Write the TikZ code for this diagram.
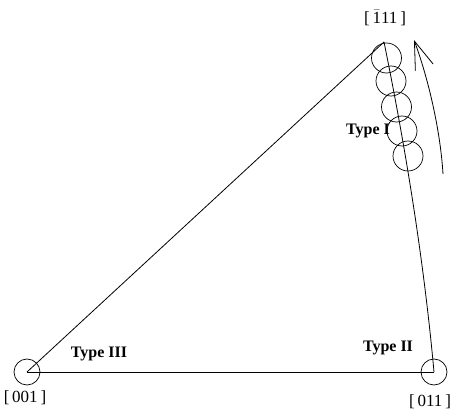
\documentclass[tikz,border=0pt]{standalone}
\usepackage{fontspec}
\setmainfont{Liberation Serif}
\usetikzlibrary{arrows.meta}

\begin{document}
\begin{tikzpicture}[x=1pt,y=-1pt,line width=0.8pt,
  ring/.style={draw,circle,inner sep=0pt,minimum size=30pt,line width=0.7pt},
  pole/.style={font=\fontsize{17}{19}\selectfont},
  kind/.style={font=\fontsize{16}{18}\selectfont\bfseries}]
\useasboundingbox (0,0) rectangle (456,412);
\coordinate (p001) at (27,372);
\coordinate (p011) at (434,372);
\coordinate (p111) at (384,42);
\draw (p001) -- (p011);
\draw (p001) -- (p111);
\draw (p111) .. controls (406,150) and (424,262) .. (p011);
\node[ring,minimum size=26pt] (c001) at (p001) {};
\node[ring,minimum size=26pt] (c011) at (p011) {};
\node[ring] (s1) at (386.5,58) {};
\node[ring] (s2) at (391,81) {};
\node[ring] (s3) at (396.5,107) {};
\node[ring] (s4) at (402,131) {};
\node[ring] (s5) at (408,156) {};
\coordinate (a0) at (443,174);
\coordinate (a1) at (414,40);
\draw[-{Straight Barb[length=28pt,width=19pt]}] (a0) .. controls (440,125) and (426,72) .. (a1);
\node[pole] (l111) at (385,18) {[\,$\bar{\mbox{1}}$11\,]};
\node[pole] (l001) at (25,398) {[\,001\,]};
\node[pole] (l011) at (430,402) {[\,011\,]};
\node[kind] (t1) at (368,131) {Type I};
\node[kind] (t2) at (388,348) {Type II};
\node[kind] (t3) at (99,354) {Type III};
\end{tikzpicture}
\end{document}
